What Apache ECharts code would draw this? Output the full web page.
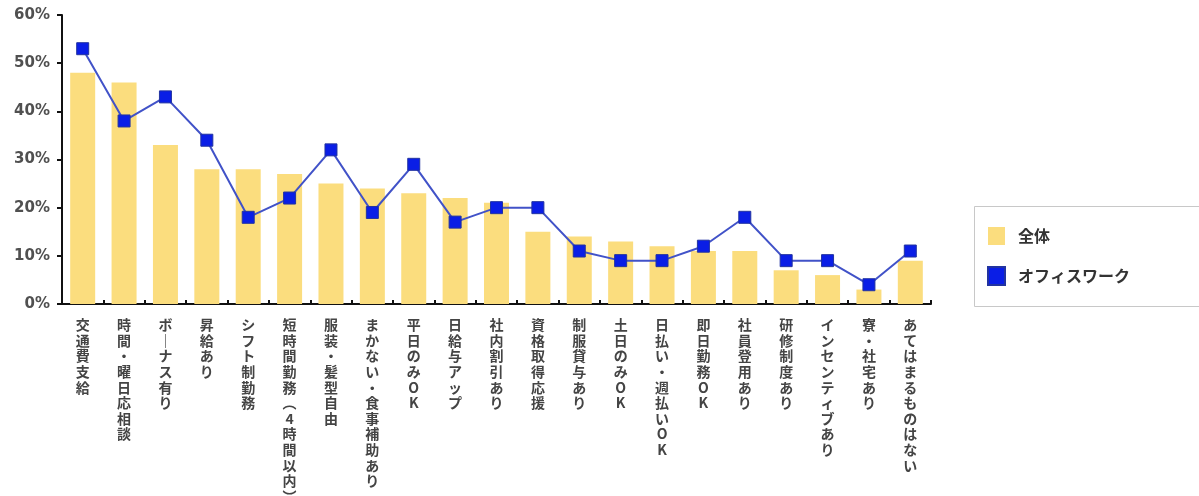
<!DOCTYPE html>
<html>
<head>
<meta charset="utf-8">
<script src="https://cdn.jsdelivr.net/npm/echarts@6/dist/echarts.min.js"></script>
<style>
  html, body { margin: 0; padding: 0; background: #fff; }
  #chart { width: 1199px; height: 496px; }
</style>
</head>
<body>
<div id="chart"></div>
<script>
// Survey categories (written vertically on the axis)
const categories = [
  '交通費支給', '時間・曜日応相談', 'ボーナス有り', '昇給あり', 'シフト制勤務',
  '短時間勤務（4時間以内）', '服装・髪型自由', 'まかない・食事補助あり', '平日のみOK', '日給与アップ',
  '社内割引あり', '資格取得応援', '制服貸与あり', '土日のみOK', '日払い・週払いOK',
  '即日勤務OK', '社員登用あり', '研修制度あり', 'インセンティブあり', '寮・社宅あり',
  'あてはまるものはない'
];
// Share of respondents, %
const allValues = [48, 46, 33, 28, 28, 27, 25, 24, 23, 22, 21, 15, 14, 13, 12, 11, 11, 7, 6, 3, 9];
const officeValues = [53, 38, 43, 34, 18, 22, 32, 19, 29, 17, 20, 20, 11, 9, 9, 12, 18, 9, 9, 4, 11];
const yTicks = [0, 10, 20, 30, 40, 50, 60];
const seriesNames = ['全体', 'オフィスワーク'];

// vertical writing: one glyph per line, long vowel mark / brackets in vertical forms
const verticalForms = { 'ー': '｜', '（': '︵', '）': '︶' };
function toVertical(s) {
  return Array.from(s).map(c => verticalForms[c] || c).join('\n');
}

const chart = echarts.init(document.getElementById('chart'));
const font = '"Noto Sans CJK JP", "Noto Sans", sans-serif';

chart.setOption({
  backgroundColor: '#ffffff',
  animation: false,
  textStyle: { fontFamily: font },
  grid: { left: 62, right: 268, top: 15, bottom: 192, containLabel: false, outerBoundsMode: 'none' },
  xAxis: {
    type: 'category',
    data: categories,
    axisLine: { lineStyle: { color: '#111', width: 2 } },
    axisTick: { show: true, inside: true, length: 4, alignWithLabel: false, lineStyle: { color: '#111', width: 2 } },
    axisLabel: {
      interval: 0,
      margin: 13,
      color: '#444',
      fontSize: 14,
      fontWeight: 'bold',
      lineHeight: 15.6,
      fontFamily: font,
      formatter: v => toVertical(v)
    }
  },
  yAxis: {
    type: 'value',
    min: yTicks[0],
    max: yTicks[yTicks.length - 1],
    interval: 10,
    splitLine: { show: false },
    axisLine: { show: true, lineStyle: { color: '#111', width: 2 } },
    axisTick: { show: true, length: 5, lineStyle: { color: '#111', width: 2 } },
    axisLabel: {
      margin: 12,
      color: '#505050',
      fontSize: 15,
      fontWeight: 'bold',
      fontFamily: '"DejaVu Sans", sans-serif',
      formatter: v => v + '%'
    }
  },
  legend: {
    orient: 'vertical',
    left: 987,
    top: 227,
    padding: 0,
    itemWidth: 17,
    itemHeight: 18,
    itemGap: 21,
    icon: 'rect',
    textStyle: { fontSize: 16, color: '#333', fontWeight: 'bold', fontFamily: font, padding: [0, 0, 0, 8] },
    data: seriesNames
  },
  graphic: [{
    type: 'rect',
    left: 972,
    top: 204,
    shape: { width: 225, height: 100 },
    style: { fill: 'none', stroke: '#c8c8c8', lineWidth: 1 },
    z: -1
  }],
  series: [
    {
      name: seriesNames[0],
      type: 'bar',
      data: allValues,
      barWidth: 25,
      itemStyle: { color: '#fbdd7e' }
    },
    {
      name: seriesNames[1],
      type: 'line',
      data: officeValues,
      symbol: 'rect',
      symbolSize: 12,
      lineStyle: { color: '#4152c8', width: 2 },
      itemStyle: { color: '#0a1ee6', borderColor: '#2233a0', borderWidth: 1 },
      z: 3
    }
  ]
});
</script>
</body>
</html>
